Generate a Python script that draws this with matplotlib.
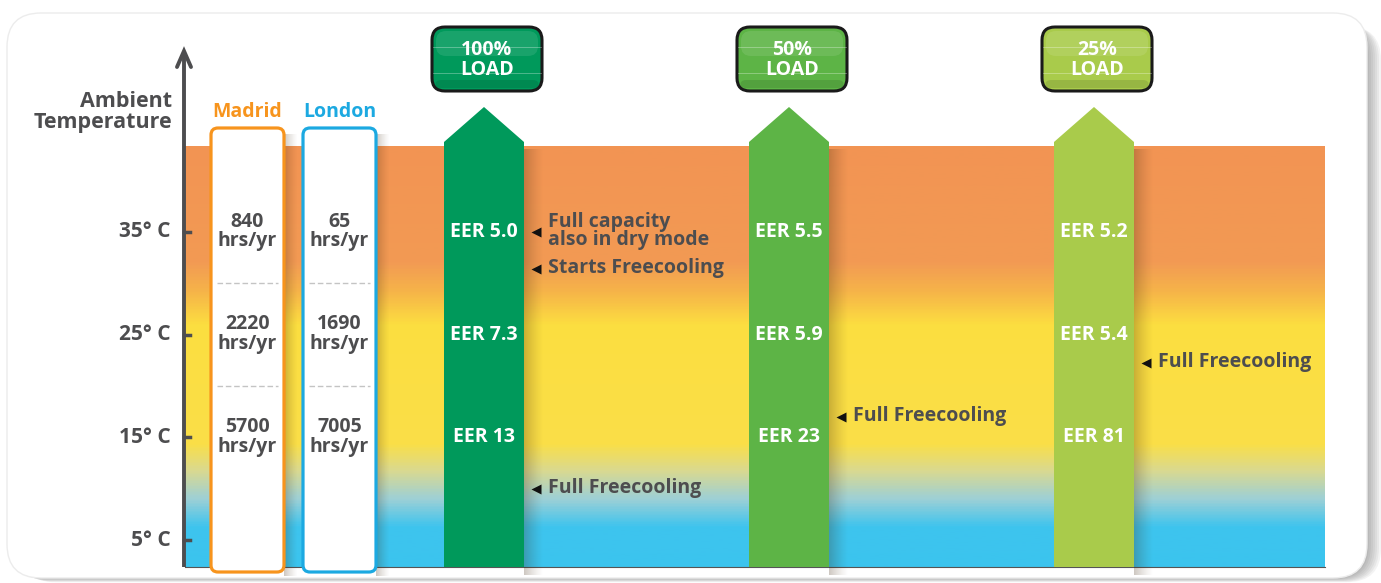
import numpy as np
import matplotlib.pyplot as plt
from matplotlib.colors import LinearSegmentedColormap
from matplotlib.patches import FancyBboxPatch, Polygon

# --- data ---
temps = [35, 25, 15, 5]
cities = ['Madrid', 'London']
city_colors = ['#F7941D', '#1CA9E1']
madrid_hours = [840, 2220, 5700]
london_hours = [65, 1690, 7005]
loads = ['100%', '50%', '25%']
load_colors = ['#00995B', '#5DB446', '#A9CB4B']
eer_100 = ['5.0', '7.3', '13']
eer_50 = ['5.5', '5.9', '23']
eer_25 = ['5.2', '5.4', '81']
note_load = [0, 0, 0, 1, 2]
note_temp = [35, 31.4, 10, 17, 22.2]
note_text = ['Full capacity\nalso in dry mode', 'Starts Freecooling',
             'Full Freecooling', 'Full Freecooling', 'Full Freecooling']

# --- layout (pixels) ---
PX_PER_DEG = 10.27
def T(py):
    # pixel row -> temperature coordinate
    return 35 - (py - 232) / PX_PER_DEG

ASP = 1 / PX_PER_DEG
DARK = '#4D4D4F'
FONT = 'Open Sans'

band_x0, band_x1 = 185, 1325
band_top, band_bot = T(147), T(567)
city_x = [247.5, 339.5]
city_w = 73
arrow_x = [484, 789, 1094]
arrow_w = 80

fig = plt.figure(figsize=(13.81, 5.83), dpi=100)
ax = fig.add_axes([0, 0, 1, 1])
ax.axis('off')

# card with a soft grey shadow to the right
for off in range(14, 0, -2):
    ax.add_patch(FancyBboxPatch((7 + off, T(578 + off * 0.3)), 1360, T(22) - T(578),
                                boxstyle='round,pad=0,rounding_size=34', mutation_aspect=ASP,
                                fc='#555555', ec='none', alpha=0.07, zorder=0))
ax.add_patch(FancyBboxPatch((7, T(578)), 1360, T(13) - T(578),
                            boxstyle='round,pad=0,rounding_size=34', mutation_aspect=ASP,
                            fc='white', ec='#ececec', lw=1, zorder=1))

# temperature gradient band
stops = [(T(567), '#3BC4EE'), (T(528), '#3EC4EE'), (T(500), '#9DD0D6'),
         (T(472), '#D9D991'), (T(445), '#FADF48'), (T(325), '#FCDE40'),
         (T(292), '#F6B449'), (T(262), '#F29A54'), (T(147), '#F29453')]
lo, hi = stops[0][0], stops[-1][0]
cmap = LinearSegmentedColormap.from_list('amb', [((t - lo) / (hi - lo), c) for t, c in stops])
grad = np.linspace(band_bot, band_top, 400).reshape(-1, 1)
ax.imshow(grad, extent=[band_x0, band_x1, band_bot, band_top], origin='lower',
          aspect='auto', cmap=cmap, vmin=lo, vmax=hi, zorder=2)
ax.plot([band_x0, band_x1], [band_bot, band_bot], color='#555555', lw=0.8, zorder=3)

def shadow(x, w, y0, y1, alpha=0.35):
    arr = np.zeros((1, 32, 4))
    arr[..., :3] = [0.25, 0.15, 0.05]
    arr[0, :, 3] = np.linspace(alpha, 0, 32) ** 1.3
    ax.imshow(arr, extent=[x, x + w, y0, y1], aspect='auto', zorder=3,
              interpolation='bilinear')

# city columns
city_hours = [madrid_hours, london_hours]
for cx, name, col, hours in zip(city_x, cities, city_colors, city_hours):
    x0 = cx - city_w / 2
    shadow(x0 + city_w, 14, T(576), T(135))
    ax.add_patch(FancyBboxPatch((x0, T(572)), city_w, T(128) - T(572),
                                boxstyle='round,pad=0,rounding_size=7', mutation_aspect=ASP,
                                fc='white', ec=col, lw=2.3, zorder=4))
    ax.text(cx, T(112), name, color=col, fontsize=14, fontweight='bold', family=FONT,
            ha='center', va='center', zorder=6)
    for t in [(a + b) / 2 for a, b in zip(temps[:2], temps[1:3])]:
        ax.plot([x0 + 6, x0 + city_w - 6], [t, t], color='#C4C4C4', lw=1,
                ls=(0, (4, 2)), zorder=5)
    for t, h in zip(temps[:3], hours):
        ax.text(cx, t + 0.05, f'{h}\nhrs/yr', color=DARK, fontsize=14, fontweight='bold',
                family=FONT, ha='center', va='center', linespacing=0.98, zorder=6)

# load arrows
eers = [eer_100, eer_50, eer_25]
for ac, lab, col, eer in zip(arrow_x, loads, load_colors, eers):
    x0, x1 = ac - arrow_w / 2, ac + arrow_w / 2
    shadow(x1, 20, band_bot - 0.8, T(150))
    ax.add_patch(Polygon([(x0, band_bot), (x0, T(142)), (ac, T(107)), (x1, T(142)),
                          (x1, band_bot)], closed=True, fc=col, ec='none', zorder=4))
    for t, e in zip(temps[:3], eer):
        ax.text(ac, t, f'EER {e}', color='white', fontsize=14, fontweight='bold',
                family=FONT, ha='center', va='center', zorder=6)
    # load button
    bx = ac + 3
    ax.add_patch(FancyBboxPatch((bx - 55, T(91)), 110, T(27) - T(91),
                                boxstyle='round,pad=0,rounding_size=13', mutation_aspect=ASP,
                                fc=col, ec='#1A1A1A', lw=2.2, zorder=4))
    ax.add_patch(FancyBboxPatch((bx - 51, T(56)), 102, T(31) - T(56),
                                boxstyle='round,pad=0,rounding_size=10', mutation_aspect=ASP,
                                fc='white', ec='none', alpha=0.10, zorder=5))
    ax.add_patch(FancyBboxPatch((bx - 52, T(88)), 104, T(80) - T(88),
                                boxstyle='round,pad=0,rounding_size=6', mutation_aspect=ASP,
                                fc='black', ec='none', alpha=0.10, zorder=5))
    for py in (47, 73):
        ax.plot([bx - 54, bx + 54], [T(py), T(py)], color='white', lw=0.6, alpha=0.35,
                zorder=5)
    ax.text(bx, T(60), f'{lab}\nLOAD', color='white', fontsize=14, fontweight='bold',
            family=FONT, ha='center', va='center', linespacing=0.98, zorder=6)

# notes beside the arrows
for li, t, s in zip(note_load, note_temp, note_text):
    x1 = arrow_x[li] + arrow_w / 2
    ax.plot(x1 + 12, t, marker='<', ms=7, color='#111111', mec='none', zorder=6)
    ax.text(x1 + 24, t + 0.1, s, color=DARK, fontsize=14, fontweight='bold', family=FONT,
            ha='left', va='center', linespacing=0.88, zorder=6)

# temperature axis
ax.plot([184, 184], [band_bot, T(52)], color=DARK, lw=2.8, zorder=5,
        solid_capstyle='butt')
ax.plot([177, 184, 191], [T(67), T(51), T(67)], color=DARK, lw=2.8, zorder=5,
        solid_capstyle='round', solid_joinstyle='miter')
for t in temps:
    ax.plot([184, 190], [t, t], color=DARK, lw=2.5, zorder=5)
    ax.text(171, t, f'{t}° C', color=DARK, fontsize=15, fontweight='bold', family=FONT,
            ha='right', va='center', zorder=6)
ax.text(172, T(112), 'Ambient\nTemperature', color=DARK, fontsize=15.5, fontweight='bold',
        family=FONT, ha='right', va='center', linespacing=0.98, zorder=6)

ax.set_xlim(0, 1381)
ax.set_ylim(T(583), T(0))
fig.savefig('out.png', dpi=100)
